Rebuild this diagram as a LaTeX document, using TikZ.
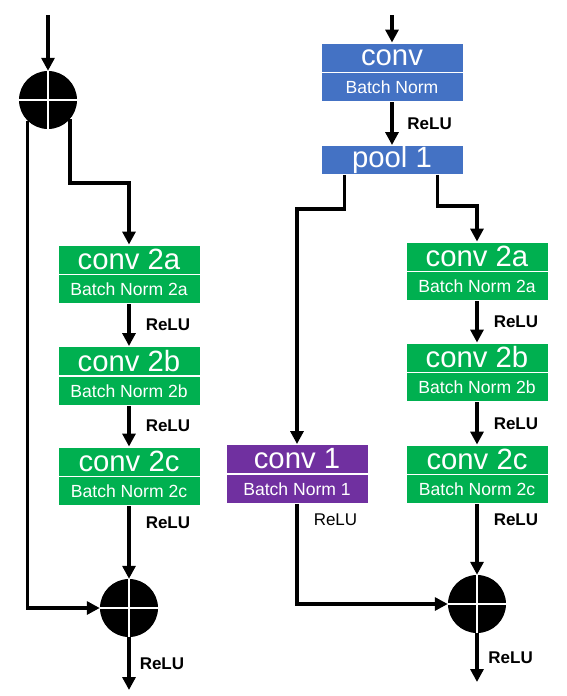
\documentclass[tikz,border=0pt]{standalone}
\usepackage{fontspec}
\setmainfont{Liberation Sans}
\usepackage{xcolor}
\usetikzlibrary{positioning,arrows.meta}
\definecolor{convgreen}{RGB}{0,176,80}
\definecolor{convblue}{RGB}{68,114,196}
\definecolor{convpurple}{RGB}{112,48,160}
\tikzset{
    layer/.style={rectangle, draw=white, line width=0.8pt, text=white, minimum width=4.26cm, minimum height=0.87cm, inner sep=0pt},
    convpart/.style={layer, font=\fontsize{25}{27}\selectfont},
    normpart/.style={layer, font=\fontsize{15}{17}\selectfont},
    adder/.style={circle, fill=black, minimum size=1.74cm, inner sep=0pt,
        path picture={\draw[white, line width=1pt] (path picture bounding box.north) -- (path picture bounding box.south)
            (path picture bounding box.west) -- (path picture bounding box.east);}},
    flow/.style={line width=3pt, -{Triangle[length=11pt,width=11pt]}},
    relu/.style={font=\bfseries\fontsize{14.5}{16}\selectfont, inner sep=2pt},
    reluthin/.style={font=\fontsize{14.5}{16}\selectfont, inner sep=2pt}
}

\begin{document}
\begin{tikzpicture}[x=0.03cm, y=-0.03cm]
    \useasboundingbox (0,0) rectangle (567,696);

    % Left block
    \coordinate (inL) at (48,15);
    \node[adder] (addL1) at (48,100) {};
    \node[convpart, fill=convgreen] (c2aL) at (129,259.5) {conv 2a};
    \node[normpart, fill=convgreen, below=0pt of c2aL] (bn2aL) {Batch Norm 2a};
    \node[convpart, fill=convgreen] (c2bL) at (129,361) {conv 2b};
    \node[normpart, fill=convgreen, below=0pt of c2bL] (bn2bL) {Batch Norm 2b};
    \node[convpart, fill=convgreen] (c2cL) at (129,461.5) {conv 2c};
    \node[normpart, fill=convgreen, below=0pt of c2cL] (bn2cL) {Batch Norm 2c};
    \node[adder] (addL2) at (129,608) {};
    \coordinate (outL) at (129,690);

    \draw[flow] (inL) -- (addL1);
    \draw[flow] (addL1.-41) -- ++(0,64) -| (c2aL);
    \draw[flow] (addL1.-134) |- (addL2);
    \draw[flow] (bn2aL) -- (c2bL) node[midway, right=0.38cm, relu] {ReLU};
    \draw[flow] (bn2bL) -- (c2cL) node[midway, right=0.38cm, relu] {ReLU};
    \draw[flow] (bn2cL) -- (addL2) node[pos=0.22, right=0.38cm, relu] {ReLU};
    \draw[flow] (addL2) -- (outL) node[midway, right=0.2cm, relu] {ReLU};

    % Right block
    \coordinate (inR) at (392,15);
    \node[convpart, fill=convblue] (c0R) at (392,57.5) {conv};
    \node[normpart, fill=convblue, below=0pt of c0R] (bn0R) {Batch Norm};
    \node[convpart, fill=convblue] (pool) at (392,160) {pool 1};
    \node[convpart, fill=convpurple] (c1R) at (297,459) {conv 1};
    \node[normpart, fill=convpurple, below=0pt of c1R] (bn1R) {Batch Norm 1};
    \node[convpart, fill=convgreen] (c2aR) at (477,256.5) {conv 2a};
    \node[normpart, fill=convgreen, below=0pt of c2aR] (bn2aR) {Batch Norm 2a};
    \node[convpart, fill=convgreen] (c2bR) at (477,357.5) {conv 2b};
    \node[normpart, fill=convgreen, below=0pt of c2bR] (bn2bR) {Batch Norm 2b};
    \node[convpart, fill=convgreen] (c2cR) at (477,459.5) {conv 2c};
    \node[normpart, fill=convgreen, below=0pt of c2cR] (bn2cR) {Batch Norm 2c};
    \node[adder] (addR) at (477,604) {};
    \coordinate (outR) at (477,682);

    \draw[flow] (inR) -- (c0R);
    \draw[flow] (bn0R) -- (pool) node[midway, right=0.34cm, relu] {ReLU};
    \draw[flow] ([xshift=0.72cm]pool.south west) -- ++(0,34) -| (c1R);
    \draw[flow] ([xshift=-0.78cm]pool.south east) -- ++(0,31) -| (c2aR);
    \draw[flow] (bn2aR) -- (c2bR) node[midway, right=0.38cm, relu] {ReLU};
    \draw[flow] (bn2bR) -- (c2cR) node[midway, right=0.38cm, relu] {ReLU};
    \draw[flow] (bn2cR) -- (addR) node[pos=0.22, right=0.38cm, relu] {ReLU};
    \draw[flow] (bn1R) |- (addR) node[pos=0.08, right=0.38cm, reluthin] {ReLU};
    \draw[flow] (addR) -- (outR) node[midway, right=0.22cm, relu] {ReLU};
\end{tikzpicture}
\end{document}
